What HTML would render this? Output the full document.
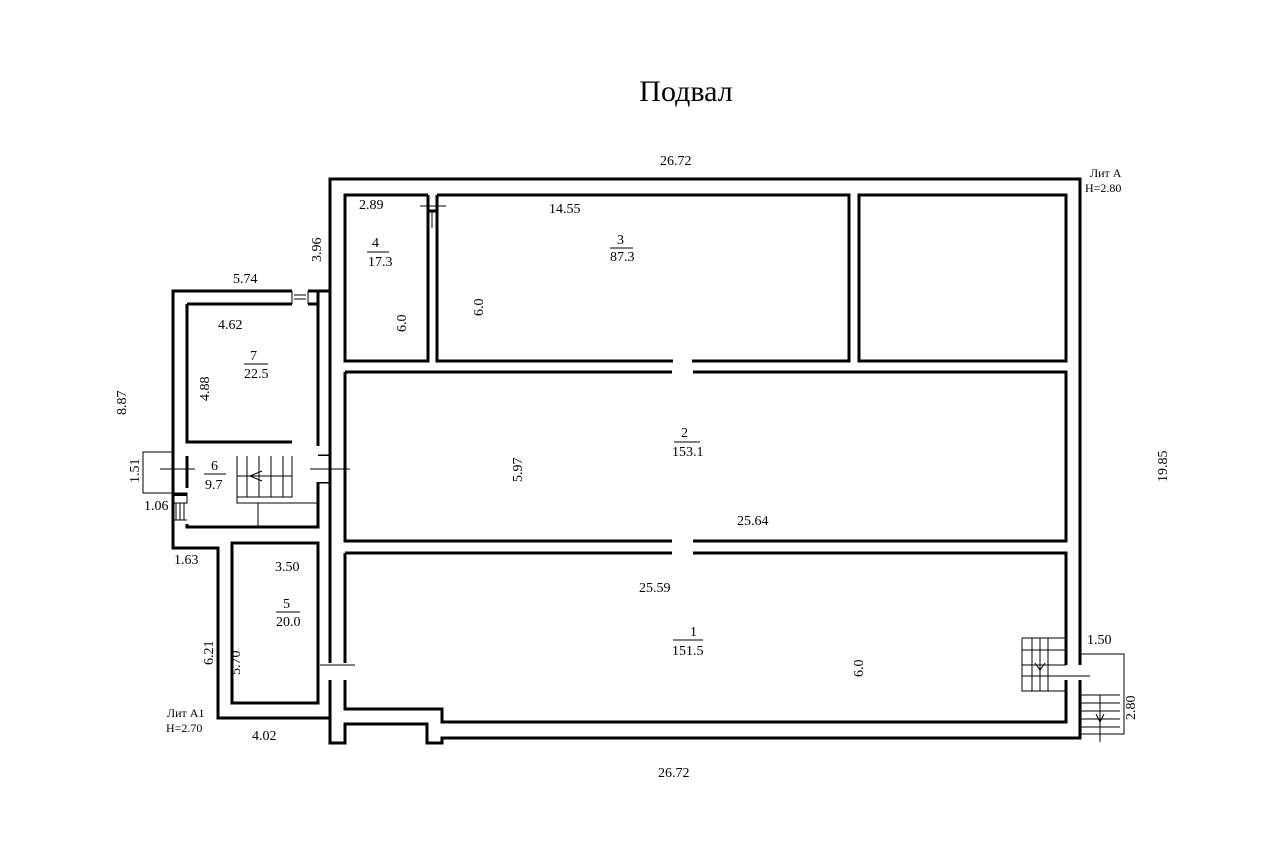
<!DOCTYPE html>
<html><head><meta charset="utf-8"><style>
body{margin:0;background:#fff}
svg{display:block}
text{font-family:"Liberation Serif",serif;fill:#000}
.t text{font-size:14px}
</style></head><body>
<svg width="1280" height="865" viewBox="0 0 1280 865" xmlns="http://www.w3.org/2000/svg">
<rect width="1280" height="865" fill="#fff"/>
<text x="686" y="101" font-size="30" text-anchor="middle">Подвал</text>
<g fill="none" stroke="#000" stroke-width="3">
<path d="M330,179 H1080 V738 H442 V743 H427 V724 H345 V743 H330 Z"/>
<path d="M330,291 H173 V548 H218 V718 H330"/>
<path d="M345,195 H428 V361 H345 Z"/>
<path d="M437,195 H849 V361 H437 Z"/>
<path d="M859,195 H1066 V361 H859 Z"/>
<path d="M345,372 H672 M693,372 H1066 V541 H693 M672,541 H345 V372"/>
<path d="M345,553 H672 M693,553 H1066 V709 M1066,709 V722 H442 V709 H345 V553"/>
<path d="M187,304 H292 M308,304 H318 V446 M187,304 V442 H292"/>
<path d="M187,456 V488 M187,524 V527 H318 V482"/>
<path d="M232,543 H318 V703 H232 Z"/>
<path d="M318,304 V291 M330,291 V456 M318,456 H330 M318,482 H330 V663 M330,680 V718"/>
</g>
<g fill="#fff" stroke="none">
<rect x="428" y="193" width="9" height="18"/>
<rect x="673" y="358" width="19" height="17"/>
<rect x="673" y="538" width="19" height="18"/>
<rect x="292" y="289" width="16" height="17"/>
<rect x="316" y="456" width="28" height="26"/>
<rect x="328" y="663" width="19" height="17"/>
<rect x="1064" y="665" width="18" height="15"/>
</g>
<g fill="none" stroke="#000" stroke-width="3">
<path d="M428,195 V211 H437 V195 M428,228 V361 M437,228 V361"/>
<path d="M330,456 V482 M345,456 V482"/>
<path d="M1066,665 V640 M1080,665 V640 M1066,680 V709 M1080,680 V700"/>
<path d="M330,663 V645 M345,663 V553 M330,680 V700 M345,680 V709"/>
</g>
<g fill="none" stroke="#000" stroke-width="1">
<path d="M420,206 H446 M432,211 V228"/>
<path d="M292,291 V304 M308,291 V304 M294,295 H306 M294,299 H306"/>
<path d="M160,469 H195"/>
<path d="M237,456 V497 H292 V456 M247,456 V497 M259,456 V497 M271,456 V497 M283,456 V497 M237,476 H292"/>
<path d="M237,497 V503 H258 V527 M258,503 H318"/>
<path d="M250,476 L262,471 M250,476 L262,481"/>
<path d="M143,452 H173 V493 H143 Z"/>
<path d="M173,493 H187 V503 H173 M176,503 V520 M180,503 V520 M184,503 V520"/>
<path d="M173,520 H187"/>
<path d="M310,469 H350"/>
<path d="M320,665 H355"/>
<path d="M1022,638 H1066 M1022,638 V691 H1066 M1022,650 H1066 M1022,665 H1066 M1022,676 H1066 M1032,638 V691 M1040,638 V691 M1048,638 V691"/>
<path d="M1040,653 V670 M1035,663 L1040,670 L1045,663"/>
<path d="M1081,654 H1124 V734 H1081 M1081,695 H1120 M1081,703 H1120 M1081,711 H1120 M1081,719 H1120 M1081,727 H1120"/>
<path d="M1100,695 V742 M1096,714 L1100,722 L1104,714"/>
<path d="M1060,676 H1090"/>
</g>
<g fill="#000" stroke="none">
<rect x="173" y="493" width="14" height="3"/>
</g>
<g class="t">
<text x="660" y="165">26.72</text>
<text x="658" y="777">26.72</text>
<text x="1090" y="177" style="font-size:12px" fill="#777">Лит А</text>
<text x="1085" y="192" style="font-size:12px" fill="#777">H=2.80</text>
<text x="167" y="717" style="font-size:12px" fill="#777">Лит А1</text>
<text x="166" y="732" style="font-size:12px" fill="#777">H=2.70</text>
<text x="359" y="209">2.89</text>
<text x="549" y="213">14.55</text>
<text x="372" y="247">4</text><line x1="367" y1="252" x2="389" y2="252" stroke="#000"/><text x="368" y="266">17.3</text>
<text x="617" y="244">3</text><line x1="610" y1="248" x2="633" y2="248" stroke="#000"/><text x="610" y="261">87.3</text>
<text x="233" y="283">5.74</text>
<text x="218" y="329">4.62</text>
<text x="250" y="360">7</text><line x1="244" y1="364" x2="268" y2="364" stroke="#000"/><text x="244" y="378">22.5</text>
<text x="681" y="437">2</text><line x1="674" y1="442" x2="700" y2="442" stroke="#000"/><text x="672" y="456">153.1</text>
<text x="737" y="525">25.64</text>
<text x="639" y="592">25.59</text>
<text x="690" y="636">1</text><line x1="673" y1="640" x2="703" y2="640" stroke="#000"/><text x="672" y="655">151.5</text>
<text x="211" y="470">6</text><line x1="204" y1="474" x2="226" y2="474" stroke="#000"/><text x="205" y="489">9.7</text>
<text x="144" y="510">1.06</text>
<text x="174" y="564">1.63</text>
<text x="275" y="571">3.50</text>
<text x="283" y="608">5</text><line x1="276" y1="612" x2="300" y2="612" stroke="#000"/><text x="276" y="626">20.0</text>
<text x="252" y="740">4.02</text>
<text x="1087" y="644">1.50</text>
<g transform="rotate(-90)">
<text x="-262" y="321">3.96</text>
<text x="-332" y="406">6.0</text>
<text x="-316" y="483">6.0</text>
<text x="-415" y="126">8.87</text>
<text x="-401" y="209">4.88</text>
<text x="-483" y="139">1.51</text>
<text x="-482" y="522">5.97</text>
<text x="-482" y="1167">19.85</text>
<text x="-677" y="863">6.0</text>
<text x="-665" y="213">6.21</text>
<text x="-675" y="240">5.70</text>
<text x="-720" y="1135">2.80</text>
</g>
</g>
</svg>
</body></html>
